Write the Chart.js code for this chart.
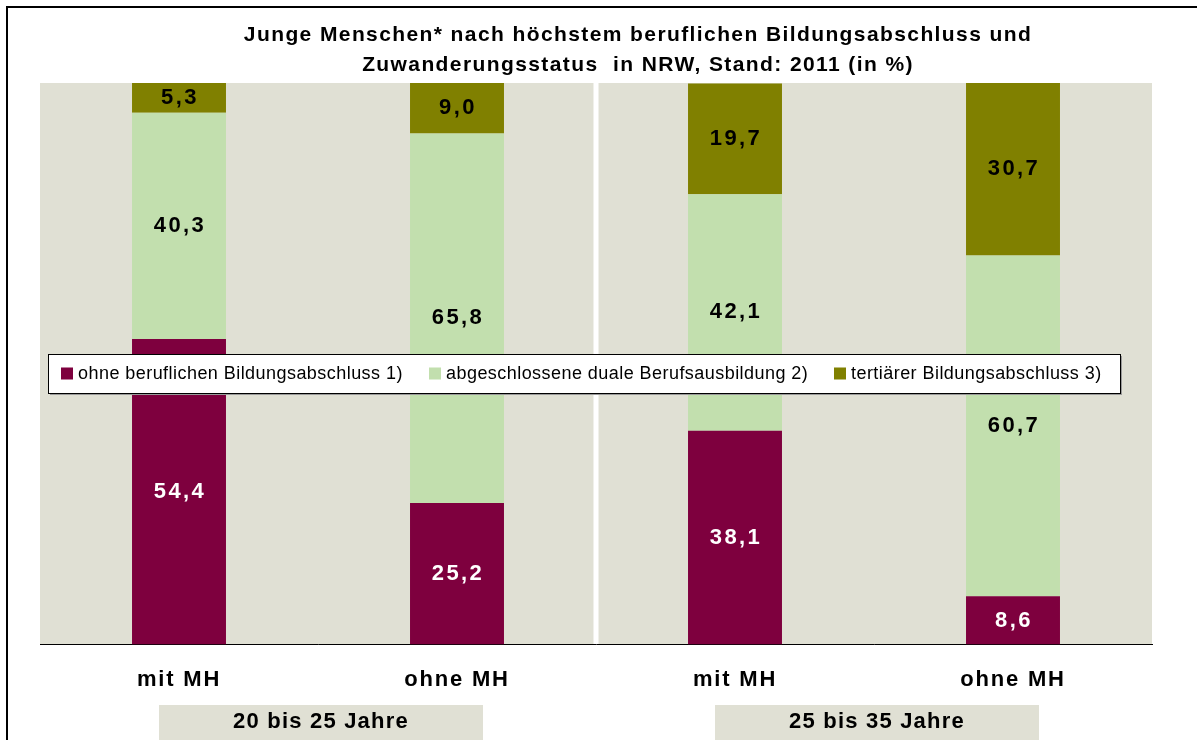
<!DOCTYPE html>
<html>
<head>
<meta charset="utf-8">
<script src="https://cdn.jsdelivr.net/npm/chart.js@4.4.0/dist/chart.umd.min.js"></script>
<style>
  html, body { margin: 0; padding: 0; background: #fff; }
  #wrap { width: 1197px; height: 740px; position: relative; }
</style>
</head>
<body>
<div id="wrap"><canvas id="chart" width="1197" height="740"></canvas></div>
<script>
// Data
const categories = ['mit MH', 'ohne MH', 'mit MH', 'ohne MH'];
const groups = ['20 bis 25 Jahre', '25 bis 35 Jahre'];
const seriesNames = [
    'ohne beruflichen Bildungsabschluss 1)',
    'abgeschlossene duale Berufsausbildung 2)',
    'tertiärer Bildungsabschluss 3)'
];
const ohneAbschluss = [54.4, 25.2, 38.1, 8.6];
const dualeAusbildung = [40.3, 65.8, 42.1, 60.7];
const tertiaer = [5.3, 9.0, 19.7, 30.7];
const titleLines = [
    'Junge Menschen* nach höchstem beruflichen Bildungsabschluss und',
    'Zuwanderungsstatus  in NRW, Stand: 2011 (in %)'
];

const colors = ['#7E003E', '#C2DFAE', '#808000'];
const labelColors = ['#ffffff', '#000000', '#000000'];
const FONT = '"Liberation Sans", Arial, sans-serif';

function formatValue(v) {
    return v.toFixed(1).replace('.', ',');
}

// Frame, plot background and separator
const backgroundPlugin = {
    id: 'background',
    beforeDraw(chart) {
        const ctx = chart.ctx;
        const area = chart.chartArea;
        ctx.save();
        ctx.strokeStyle = '#000';
        ctx.lineWidth = 2;
        ctx.beginPath();
        ctx.moveTo(7, 800);
        ctx.lineTo(7, 7);
        ctx.lineTo(1300, 7);
        ctx.stroke();
        ctx.fillStyle = '#E0E0D4';
        ctx.fillRect(area.left, area.top, area.right - area.left, area.bottom - area.top);
        const xs = chart.scales.x;
        const sepX = (xs.getPixelForValue(1) + xs.getPixelForValue(2)) / 2;
        ctx.fillStyle = '#ffffff';
        ctx.fillRect(sepX - 2.5, area.top, 5, area.bottom - area.top);
        ctx.restore();
        // spacing used by the axis tick labels
        ctx.letterSpacing = '1.8px';
    }
};

// Title
const titlePlugin = {
    id: 'customTitle',
    afterDraw(chart) {
        const ctx = chart.ctx;
        ctx.save();
        ctx.font = 'bold 21px ' + FONT;
        ctx.fillStyle = '#000';
        ctx.textAlign = 'center';
        ctx.textBaseline = 'middle';
        ctx.letterSpacing = '1.4px';
        ctx.fillText(titleLines[0], 638, 35);
        ctx.fillText(titleLines[1], 638, 65);
        ctx.restore();
    }
};

// Value labels inside segments
const valueLabelPlugin = {
    id: 'valueLabels',
    afterDatasetsDraw(chart) {
        const ctx = chart.ctx;
        ctx.save();
        ctx.font = 'bold 22px ' + FONT;
        ctx.textAlign = 'center';
        ctx.textBaseline = 'middle';
        ctx.letterSpacing = '2.4px';
        chart.data.datasets.forEach((ds, i) => {
            const meta = chart.getDatasetMeta(i);
            meta.data.forEach((bar, j) => {
                const y = (bar.y + bar.base) / 2;
                ctx.fillStyle = labelColors[i];
                ctx.fillText(formatValue(ds.data[j]), bar.x + 1, y);
            });
        });
        ctx.restore();
    }
};

// Legend box drawn over the bars
const legendBoxPlugin = {
    id: 'legendBox',
    afterDatasetsDraw(chart) {
        const ctx = chart.ctx;
        const left = 48, top = 354, right = 1120, bottom = 393;
        ctx.save();
        ctx.fillStyle = '#9a9a9a';
        ctx.fillRect(left + 2, top + 2, right - left, bottom - top);
        ctx.fillStyle = '#ffffff';
        ctx.fillRect(left, top, right - left, bottom - top);
        ctx.strokeStyle = '#000';
        ctx.lineWidth = 1;
        ctx.strokeRect(left + 0.5, top + 0.5, right - left, bottom - top);
        ctx.font = '18px ' + FONT;
        ctx.letterSpacing = '0.45px';
        ctx.textBaseline = 'middle';
        ctx.textAlign = 'left';
        const midY = (top + bottom) / 2;
        const startX = [61, 429, 834];
        seriesNames.forEach((name, i) => {
            ctx.fillStyle = colors[i];
            ctx.fillRect(startX[i], midY - 6, 12, 12);
            ctx.fillStyle = '#000';
            ctx.fillText(name, startX[i] + 17, midY + 1);
        });
        ctx.restore();
    }
};

// Group label boxes under the axis
const groupPlugin = {
    id: 'groups',
    afterDraw(chart) {
        const ctx = chart.ctx;
        const xs = chart.scales.x;
        ctx.save();
        ctx.font = 'bold 22px ' + FONT;
        ctx.textAlign = 'center';
        ctx.textBaseline = 'middle';
        ctx.letterSpacing = '1.2px';
        groups.forEach((g, i) => {
            const cx = (xs.getPixelForValue(i * 2) + xs.getPixelForValue(i * 2 + 1)) / 2 + 3;
            ctx.fillStyle = '#E0E0D4';
            ctx.fillRect(cx - 162, 705, 324, 40);
            ctx.fillStyle = '#000';
            ctx.fillText(g, cx, 722);
        });
        ctx.restore();
    }
};

const datasets = [ohneAbschluss, dualeAusbildung, tertiaer].map((data, i) => ({
    label: seriesNames[i],
    data: data,
    backgroundColor: colors[i],
    borderWidth: 0,
    barPercentage: 0.338,
    categoryPercentage: 1
}));

new Chart(document.getElementById('chart').getContext('2d'), {
    type: 'bar',
    data: {
        labels: categories,
        datasets: datasets
    },
    options: {
        responsive: false,
        animation: false,
        layout: {
            padding: { left: 40, right: 45, top: 83, bottom: 25 }
        },
        plugins: {
            legend: { display: false },
            title: { display: false },
            tooltip: { enabled: false }
        },
        scales: {
            x: {
                stacked: true,
                grid: { display: false, drawTicks: false },
                border: { display: true, color: '#000', width: 1 },
                ticks: {
                    color: '#000',
                    padding: 22,
                    font: { family: FONT, size: 22, weight: 'bold' }
                }
            },
            y: {
                stacked: true,
                display: false,
                min: 0,
                max: 100
            }
        }
    },
    plugins: [backgroundPlugin, valueLabelPlugin, legendBoxPlugin, groupPlugin, titlePlugin]
});
</script>
</body>
</html>
